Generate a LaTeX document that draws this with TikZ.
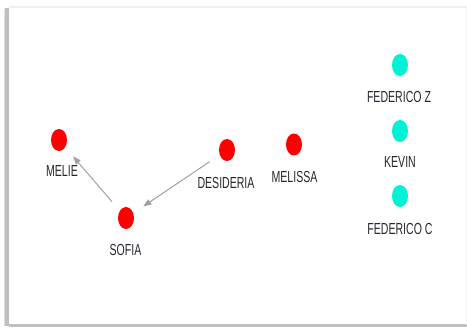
\documentclass[tikz,border=0pt]{standalone}
\usepackage{fontspec}
\setmainfont{Liberation Sans}[FakeStretch=0.66]
\usetikzlibrary{arrows.meta,shapes.geometric}
\definecolor{dotred}{RGB}{255,0,0}
\definecolor{dotcyan}{RGB}{0,242,212}
\definecolor{lblcol}{RGB}{40,40,48}
\definecolor{edgecol}{RGB}{160,160,160}
\tikzset{
  reddot/.style={ellipse, fill=dotred, draw=none, minimum width=16pt, minimum height=22pt, inner sep=0pt},
  cyandot/.style={ellipse, fill=dotcyan, draw=none, minimum width=16pt, minimum height=22pt, inner sep=0pt},
  lbl/.style={text=lblcol, font=\fontsize{16}{16}\selectfont, inner sep=0pt, anchor=center},
  link/.style={draw=edgecol, line width=1pt, -{Triangle[length=8pt,width=6pt]}, shorten <=12pt, shorten >=12pt}
}
\begin{document}
\begin{tikzpicture}[x=1pt,y=-1pt]
\useasboundingbox (0,0) rectangle (467,328);
\fill[white] (0,0) rectangle (467,328);
% panel frame / shadow
\fill[gray!50] (5,8) rectangle (9,326);
\fill[gray!25] (4,9) rectangle (5,326);
\fill[gray!12] (9,6) rectangle (467,8);
\fill[gray!50] (9,324.5) rectangle (467,327);
\fill[gray!12] (465.5,8) rectangle (467,325);
% nodes
\node[reddot] (melie) at (59,140) {};
\node[reddot] (sofia) at (126,218) {};
\node[reddot] (desideria) at (227,150) {};
\node[reddot] (melissa) at (294,144.5) {};
\node[cyandot] (fedz) at (400,65) {};
\node[cyandot] (kevin) at (400,131) {};
\node[cyandot] (fedc) at (400,196) {};
% labels
\node[lbl] (melie-l) at (62,171.5) {MELIE};
\node[lbl] (sofia-l) at (125.5,250) {SOFIA};
\node[lbl] (desideria-l) at (226,183) {DESIDERIA};
\node[lbl] (melissa-l) at (294.5,177) {MELISSA};
\node[lbl] (fedz-l) at (399,97) {FEDERICO Z};
\node[lbl] (kevin-l) at (400,162.5) {KEVIN};
\node[lbl] (fedc-l) at (400,228.5) {FEDERICO C};
% links
\draw[link] (sofia) -- (melie);
\draw[link] (desideria) -- (sofia);
\end{tikzpicture}
\end{document}
